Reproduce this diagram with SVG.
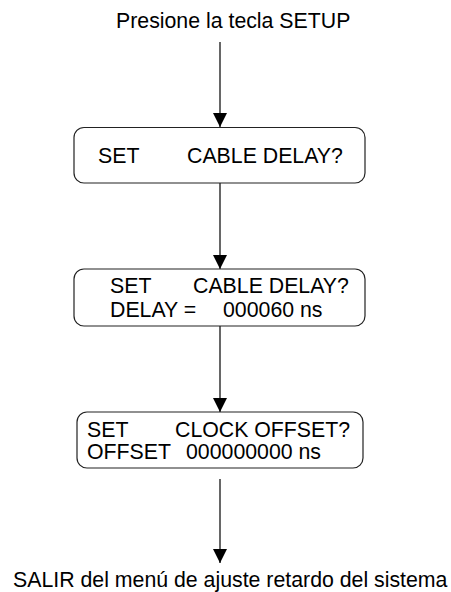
<svg xmlns="http://www.w3.org/2000/svg" width="451" height="592" viewBox="0 0 451 592">
  <style>
    text { font-family: "Liberation Sans", Arial, sans-serif; font-size: 21.3px; fill: #000; }
    .box { fill: #fff; stroke: #222; stroke-width: 1.2; }
    .conn { stroke: #000; stroke-width: 1.2; fill: none; }
  </style>
  <defs>
    <marker id="arrow" markerUnits="userSpaceOnUse" markerWidth="16" markerHeight="14" refX="14" refY="7" orient="auto">
      <path d="M0,0 L14,7 L0,14 Z" fill="#000"/>
    </marker>
  </defs>
  <rect width="451" height="592" fill="#fff"/>
  <g id="start">
    <text x="116" y="28">Presione la tecla SETUP</text>
  </g>
  <g id="connectors">
    <line class="conn" x1="220" y1="42" x2="220" y2="127" marker-end="url(#arrow)"/>
    <line class="conn" x1="220" y1="183" x2="220" y2="269" marker-end="url(#arrow)"/>
    <line class="conn" x1="220" y1="326" x2="220" y2="412" marker-end="url(#arrow)"/>
    <line class="conn" x1="220" y1="479" x2="220" y2="563" marker-end="url(#arrow)"/>
  </g>
  <g id="box1">
    <rect class="box" x="74" y="127.5" width="291" height="55.5" rx="10" ry="10"/>
    <text x="98" y="163">SET</text>
    <text x="187" y="163">CABLE DELAY?</text>
  </g>
  <g id="box2">
    <rect class="box" x="74" y="269" width="291" height="57" rx="10" ry="10"/>
    <text x="110" y="293">SET</text>
    <text x="193" y="293">CABLE DELAY?</text>
    <text x="110" y="317">DELAY =</text>
    <text x="223" y="317">000060 ns</text>
  </g>
  <g id="box3">
    <rect class="box" x="77" y="412" width="286" height="56" rx="10" ry="10"/>
    <text x="87" y="437">SET</text>
    <text x="175" y="437">CLOCK OFFSET?</text>
    <text x="87" y="459">OFFSET</text>
    <text x="186" y="459">000000000 ns</text>
  </g>
  <g id="end">
    <text x="13" y="586.5">SALIR del menú de ajuste retardo del sistema</text>
  </g>
</svg>
